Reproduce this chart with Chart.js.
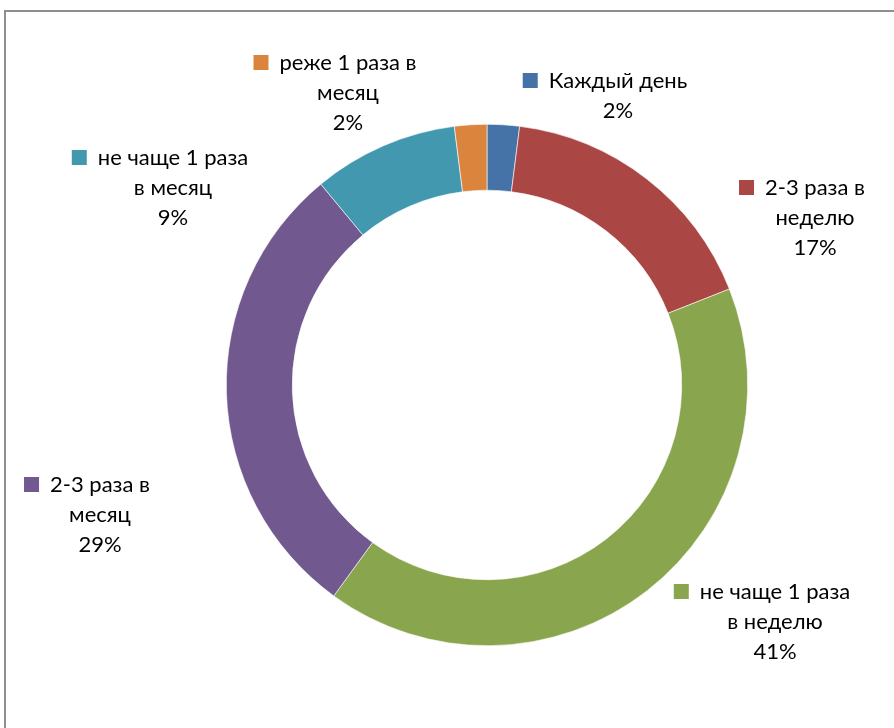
<!DOCTYPE html>
<html><head><meta charset="utf-8">
<script src="https://cdn.jsdelivr.net/npm/chart.js@4.4.1/dist/chart.umd.min.js"></script>
<style>
html,body{margin:0;padding:0;background:#fff;width:894px;height:728px;overflow:hidden}
#frame{position:absolute;left:4px;top:10px;width:1000px;height:1000px;border:2px solid #8f8f8f;box-sizing:border-box}
#c{position:absolute;left:0;top:0}
</style></head><body>
<div id="frame"></div>
<canvas id="c" width="894" height="728"></canvas>
<script>
const categories = ['Каждый день','2-3 раза в неделю','не чаще 1 раза в неделю','2-3 раза в месяц','не чаще 1 раза в месяц','реже 1 раза в месяц'];
const values = [2, 17, 41, 29, 9, 2];
const colors = ['#4572A7','#AA4643','#89A54E','#71588F','#4198AF','#DB843D'];
const labelLines = [['Каждый день'],['2-3 раза в','неделю'],['не чаще 1 раза','в неделю'],['2-3 раза в','месяц'],['не чаще 1 раза','в месяц'],['реже 1 раза в','месяц']];

const labelOffsets = [[131,-304],[328,-197],[288,207],[-387,100],[-314,-227],[-139,-322]];
const FONT = '22px Lato';
const LINE = 30;

const labelPlugin = {
  id: 'sliceLabels',
  afterDraw(chart) {
    const ctx = chart.ctx;
    const meta = chart.getDatasetMeta(0);
    const arc0 = meta.data[0];
    const cx = arc0.x, cy = arc0.y;
    const total = values.reduce((a,b)=>a+b,0);
    ctx.save();
    ctx.font = FONT;
    ctx.fillStyle = '#000';
    ctx.textAlign = 'center';
    ctx.textBaseline = 'middle';
    values.forEach((v,i) => {
      const lines = labelLines[i].concat([Math.round(v/total*100) + '%']);
      const x = cx + labelOffsets[i][0];
      const y0 = cy + labelOffsets[i][1];
      lines.forEach((ln,j) => ctx.fillText(ln, x, y0 + j*LINE));
      const w = ctx.measureText(lines[0]).width;
      ctx.fillStyle = colors[i];
      ctx.fillRect(x - w/2 - 26, y0 - 8, 15, 15);
      ctx.fillStyle = '#000';
    });
    ctx.restore();
  }
};

new Chart(document.getElementById('c'), {
  type: 'doughnut',
  data: { labels: categories, datasets: [{ data: values, backgroundColor: colors, borderColor: '#ffffff', borderWidth: 0.6 }] },
  options: {
    responsive: false,
    animation: false,
    devicePixelRatio: 1,
    cutout: '74.7%',
    layout: { padding: { left: 226, right: 146, top: 124, bottom: 82 } },
    plugins: { legend: { display: false }, tooltip: { enabled: false } }
  },
  plugins: [labelPlugin]
});
</script>
</body></html>
